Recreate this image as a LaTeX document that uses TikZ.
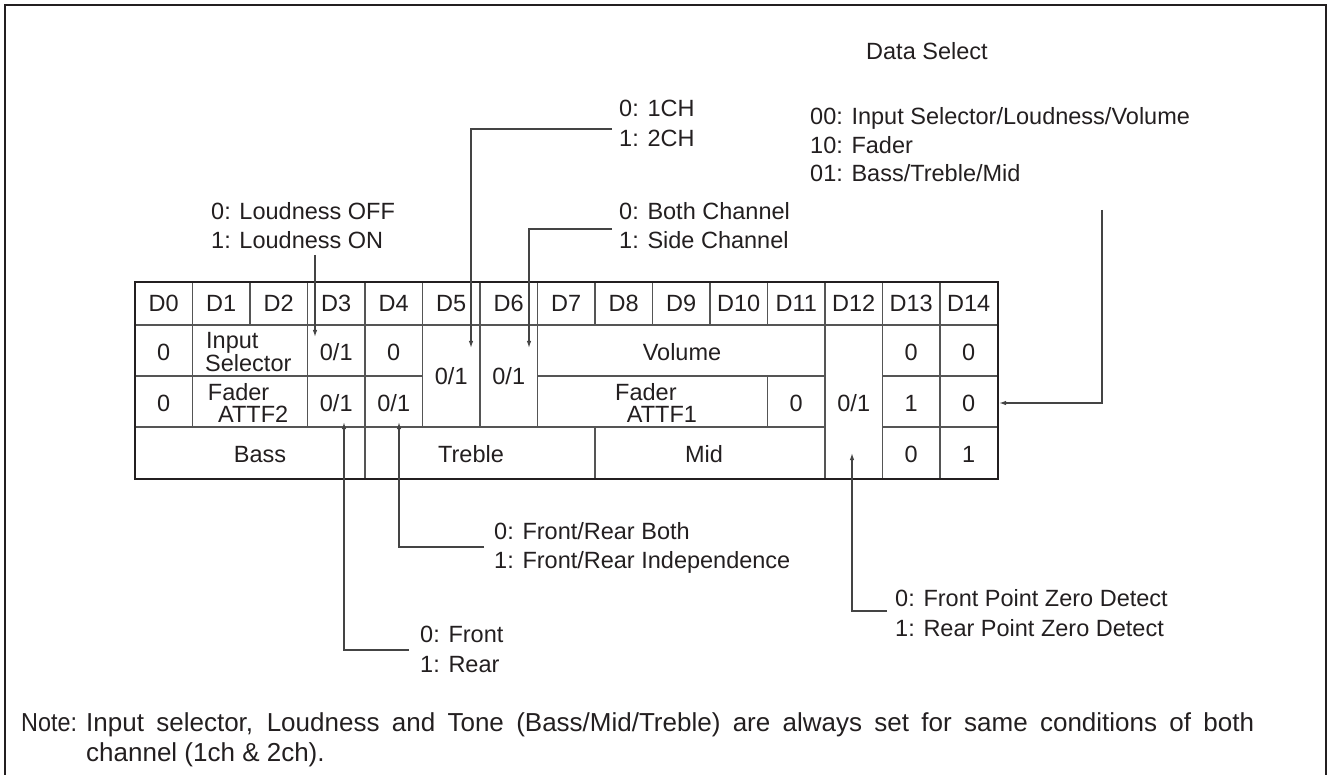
\documentclass[tikz,border=0pt]{standalone}
\usepackage{fontspec}
\setmainfont{Liberation Sans}
\usetikzlibrary{arrows.meta}
\definecolor{ink}{HTML}{231F20}
\definecolor{gridgray}{HTML}{555555}
\definecolor{linegray}{HTML}{444444}
\begin{document}
\begin{tikzpicture}[x=1pt,y=-1pt,
  every node/.style={font=\fontsize{23.5}{28}\selectfont, inner sep=0pt, text=ink},
  txt/.style={anchor=base west},
  ctr/.style={anchor=base},
  notefont/.style={font=\fontsize{26}{30}\selectfont},
  gridline/.style={draw=gridgray, line width=1.2},
  border/.style={draw=ink, line width=2},
  conn/.style={draw=linegray, line width=1.3},
  arr/.style={conn, -{Latex[length=7,width=4.5]}}]
\useasboundingbox (0,0) rectangle (1327,775);
% outer frame (open at bottom)
\draw[border] (5,790) -- (5,5) -- (1325.5,5) -- (1325.5,790);

% ---- table grid ----
\def\X#1{{135+57.5*(#1)}}
% horizontal lines
\draw[gridline] (\X{0},325) -- (\X{15},325);
\draw[gridline] (\X{0},376) -- (\X{5},376);
\draw[gridline] (\X{7},376) -- (\X{12},376);
\draw[gridline] (\X{13},376) -- (\X{15},376);
\draw[gridline] (\X{0},427) -- (\X{12},427);
\draw[gridline] (\X{13},427) -- (\X{15},427);
% vertical lines in header
\foreach \i in {1,...,14} \draw[gridline] (\X{\i},282) -- (\X{\i},325);
% vertical lines rows 1-3
\foreach \i in {1,3,5,6,7} \draw[gridline] (\X{\i},325) -- (\X{\i},427);
\foreach \i in {4,12,13,14} \draw[gridline] (\X{\i},325) -- (\X{\i},479);
\draw[gridline] (\X{8},427) -- (\X{8},479);
\draw[gridline] (\X{11},376) -- (\X{11},427);
\draw[border] (\X{0},282) rectangle (\X{15},479);

% ---- header ----
\foreach \i in {0,...,14} \node[ctr] (h\i) at ({135+57.5*\i+28.75},311.9) {D\i};

% ---- row 1 ----
\node[ctr] (a0) at (163.75,360) {0};
\node[txt] (a1) at (206,348.4) {Input};
\node[txt] (a2) at (205,371.7) {Selector};
\node[ctr] (a3) at (336.25,360) {0/1};
\node[ctr] (a4) at (393.75,360) {0};
\node[ctr] (a5) at (451.25,384) {0/1};
\node[ctr] (a6) at (508.75,384) {0/1};
\node[ctr] (a7) at (682,360) {Volume};
\node[ctr] (a12) at (853.75,411.2) {0/1};
\node[ctr] (a13) at (911.25,360) {0};
\node[ctr] (a14) at (968.75,360) {0};
% ---- row 2 ----
\node[ctr] (b0) at (163.75,411.2) {0};
\node[txt] (b1) at (207.7,400) {Fader};
\node[txt] (b2) at (218,422.7) {ATTF2};
\node[ctr] (b3) at (336.25,411.2) {0/1};
\node[ctr] (b4) at (393.75,411.2) {0/1};
\node[txt] (b7) at (615,400) {Fader};
\node[txt] (b8) at (626.7,422.7) {ATTF1};
\node[ctr] (b11) at (796.25,411.2) {0};
\node[ctr] (b13) at (911.25,411.2) {1};
\node[ctr] (b14) at (968.75,411.2) {0};
% ---- row 3 ----
\node[ctr] (c0) at (260,462.4) {Bass};
\node[ctr] (c4) at (471,462.4) {Treble};
\node[ctr] (c8) at (704,462.4) {Mid};
\node[ctr] (c13) at (911.25,462.4) {0};
\node[ctr] (c14) at (968.75,462.4) {1};

% ---- labels ----
\node[txt] (ds) at (866,59.1) {Data Select};
\node[txt] (ds1) at (810,124.4) {00: Input Selector/Loudness/Volume};
\node[txt] (ds2) at (810,153.1) {10: Fader};
\node[txt] (ds3) at (810,181.7) {01: Bass/Treble/Mid};
\node[txt] (ch1) at (619,117) {0: 1CH};
\node[txt] (ch2) at (619,146.5) {1: 2CH};
\node[txt] (ld1) at (211,219.4) {0: Loudness OFF};
\node[txt] (ld2) at (211,248.9) {1: Loudness ON};
\node[txt] (bc1) at (619,219.4) {0: Both Channel};
\node[txt] (bc2) at (619,248.9) {1: Side Channel};
\node[txt] (fr1) at (494,539.4) {0: Front/Rear Both};
\node[txt] (fr2) at (494,568.9) {1: Front/Rear Independence};
\node[txt] (f1) at (420,642.7) {0: Front};
\node[txt] (f2) at (420,672.4) {1: Rear};
\node[txt] (pz1) at (895,606.7) {0: Front Point Zero Detect};
\node[txt] (pz2) at (895,636.2) {1: Rear Point Zero Detect};
\node[txt, notefont] (nt) at (21,731) {\scalebox{0.9}[1]{Note:}};
\node[txt, notefont] (nt1) at (86,731) {\makebox[1168pt][s]{Input selector, Loudness and Tone (Bass/Mid/Treble) are always set for same conditions of both}};
\node[txt, notefont] (nt2) at (86,761) {channel (1ch \& 2ch).};

% ---- connector coordinates ----
\coordinate (ldS) at (315,255);   \coordinate (ldE) at (315,337);
\coordinate (chS) at (612,129);   \coordinate (chB) at (471,129);   \coordinate (chE) at (471,348);
\coordinate (bcS) at (612,229);   \coordinate (bcB) at (529,229);   \coordinate (bcE) at (529,348);
\coordinate (fS) at (409,650);    \coordinate (fB) at (344,650);    \coordinate (fE) at (344,422);
\coordinate (frS) at (484,547);   \coordinate (frB) at (399,547);   \coordinate (frE) at (399,422);
\coordinate (pzS) at (887,611);   \coordinate (pzB) at (852,611);   \coordinate (pzE) at (852,453);
\coordinate (dsS) at (1102,210);  \coordinate (dsB) at (1102,403);  \coordinate (dsE) at (999,403);

\draw[arr] (ldS) -- (ldE);
\draw[arr] (chS) -- (chB) -- (chE);
\draw[arr] (bcS) -- (bcB) -- (bcE);
\draw[arr] (fS) -- (fB) -- (fE);
\draw[arr] (frS) -- (frB) -- (frE);
\draw[arr] (pzS) -- (pzB) -- (pzE);
\draw[arr] (dsS) -- (dsB) -- (dsE);
\end{tikzpicture}
\end{document}
